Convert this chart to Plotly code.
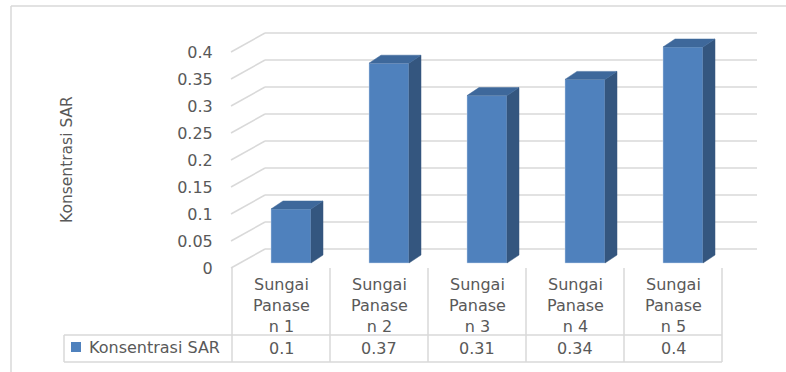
import plotly.graph_objects as go

# ---- data -------------------------------------------------------------
categories = ["Sungai Panasen 1", "Sungai Panasen 2", "Sungai Panasen 3",
              "Sungai Panasen 4", "Sungai Panasen 5"]
category_labels = ["Sungai<br>Panase<br>n 1", "Sungai<br>Panase<br>n 2",
                   "Sungai<br>Panase<br>n 3", "Sungai<br>Panase<br>n 4",
                   "Sungai<br>Panase<br>n 5"]
sar_values = [0.1, 0.37, 0.31, 0.34, 0.4]
tick_values = [0, 0.05, 0.1, 0.15, 0.2, 0.25, 0.3, 0.35, 0.4]
tick_labels = ["0", "0.05", "0.1", "0.15", "0.2", "0.25", "0.3", "0.35", "0.4"]
series_name = "Konsentrasi SAR"

# ---- geometry (pixel based pseudo-3D projection) ----------------------
W, H = 786, 372
COL = 98.0        # px per category
VAL = 540.0       # px per value unit
X0 = 281.0        # px of first category centre (front edge of floor)
Y0 = 268.0        # px of value 0 on the front edge of the floor

def xd(px):
    return (px - X0) / COL

def yd(py):
    return (Y0 - py) / VAL

WALL_DX, WALL_DY = 34 / COL, 19 / VAL     # floor depth offset
BAR_DX, BAR_DY = 12 / COL, 8 / VAL        # bar depth offset
BAR_BASE = 5 / VAL                        # front face sits slightly behind floor edge
BAR_W = 40 / COL
BAR_OFF = -10 / COL

FRONT = "#4F81BD"
SIDE = "#34567F"
TOP = "#3E689B"
GRID = "#D9D9D9"
TEXT = "#595959"
FONT = "DejaVu Sans"

n = len(categories)
xs = list(range(n))

fig = go.Figure()

# back wall and side wall gridlines
shapes = []
for t in tick_values:
    shapes.append(dict(type="line", xref="x", yref="y", layer="below",
                       x0=xd(265), x1=xd(757), y0=t + WALL_DY, y1=t + WALL_DY,
                       line=dict(color=GRID, width=1.5)))
    shapes.append(dict(type="line", xref="x", yref="y", layer="below",
                       x0=-0.5 - 1 / COL, x1=-0.5 - 1 / COL + WALL_DX, y0=t, y1=t + WALL_DY,
                       line=dict(color=GRID, width=1.5)))

# front faces of the columns
fig.add_trace(go.Bar(
    x=xs, y=sar_values, base=[BAR_BASE] * n, width=BAR_W, offset=BAR_OFF,
    marker=dict(color=FRONT, line=dict(color="rgba(200,215,235,0.6)", width=0.8)),
    name=series_name, showlegend=False, hoverinfo="skip"))

# side and top faces
for i, v in zip(xs, sar_values):
    xl = i + BAR_OFF
    xr = xl + BAR_W
    top = BAR_BASE + v
    fig.add_trace(go.Scatter(
        x=[xr, xr, xr + BAR_DX, xr + BAR_DX, xr],
        y=[BAR_BASE, top, top + BAR_DY, BAR_BASE + BAR_DY, BAR_BASE],
        mode="lines", fill="toself", fillcolor=SIDE,
        line=dict(color=SIDE, width=0.5), showlegend=False, hoverinfo="skip"))
    fig.add_trace(go.Scatter(
        x=[xl, xr, xr + BAR_DX, xl + BAR_DX, xl],
        y=[top, top, top + BAR_DY, top + BAR_DY, top],
        mode="lines", fill="toself", fillcolor=TOP,
        line=dict(color=TOP, width=0.5), showlegend=False, hoverinfo="skip"))

# data table lines
for k in range(n + 1):
    shapes.append(dict(type="line", xref="x", yref="paper",
                       x0=k - 0.5, x1=k - 0.5, y0=1 - 268 / H, y1=1 - 362 / H,
                       line=dict(color=GRID, width=1.5)))
for py in (335, 362):
    shapes.append(dict(type="line", xref="paper", yref="paper",
                       x0=64 / W, x1=722 / W, y0=1 - py / H, y1=1 - py / H,
                       line=dict(color=GRID, width=1.5)))
shapes.append(dict(type="line", xref="paper", yref="paper",
                   x0=64 / W, x1=64 / W, y0=1 - 335 / H, y1=1 - 362 / H,
                   line=dict(color=GRID, width=1.5)))
# legend key square
shapes.append(dict(type="rect", xref="paper", yref="paper",
                   x0=71 / W, x1=81 / W, y0=1 - 342 / H, y1=1 - 352 / H,
                   fillcolor=FRONT, line=dict(width=0)))
# chart area border
shapes.append(dict(type="line", xref="paper", yref="paper",
                   x0=11 / W, x1=1.0, y0=1 - 6 / H, y1=1 - 6 / H,
                   line=dict(color=GRID, width=1.5)))
shapes.append(dict(type="line", xref="paper", yref="paper",
                   x0=11 / W, x1=11 / W, y0=1 - 6 / H, y1=0,
                   line=dict(color=GRID, width=1.5)))

annotations = []
for i, lab, v in zip(xs, category_labels, sar_values):
    annotations.append(dict(x=i, y=1 - 305 / H, xref="x", yref="paper",
                            text=lab, showarrow=False, xanchor="center", yanchor="middle",
                            font=dict(family=FONT, size=16, color=TEXT)))
    annotations.append(dict(x=i, y=1 - 348 / H, xref="x", yref="paper",
                            text=f"{v:g}", showarrow=False, xanchor="center", yanchor="middle",
                            font=dict(family=FONT, size=16, color=TEXT)))
annotations.append(dict(x=87 / W, y=1 - 347 / H, xref="paper", yref="paper",
                        text=series_name, showarrow=False, xanchor="left", yanchor="middle",
                        font=dict(family=FONT, size=16, color=TEXT)))
annotations.append(dict(x=67 / W, y=1 - 160 / H, xref="paper", yref="paper",
                        text=series_name, textangle=-90, showarrow=False,
                        xanchor="center", yanchor="middle",
                        font=dict(family=FONT, size=15.5, color=TEXT)))

fig.update_layout(
    width=W, height=H,
    margin=dict(l=0, r=0, t=0, b=0),
    paper_bgcolor="white", plot_bgcolor="white",
    showlegend=False,
    shapes=shapes, annotations=annotations,
    xaxis=dict(range=[xd(0), xd(W)], visible=False, fixedrange=True),
    yaxis=dict(range=[yd(H), yd(0)], anchor="free", position=231 / W, side="left",
               tickvals=tick_values, ticktext=tick_labels,
               showgrid=False, zeroline=False, showline=False,
               ticks="outside", ticklen=15, tickcolor="rgba(0,0,0,0)",
               tickfont=dict(family=FONT, size=16, color=TEXT), fixedrange=True),
)

fig.write_html("out.html")
